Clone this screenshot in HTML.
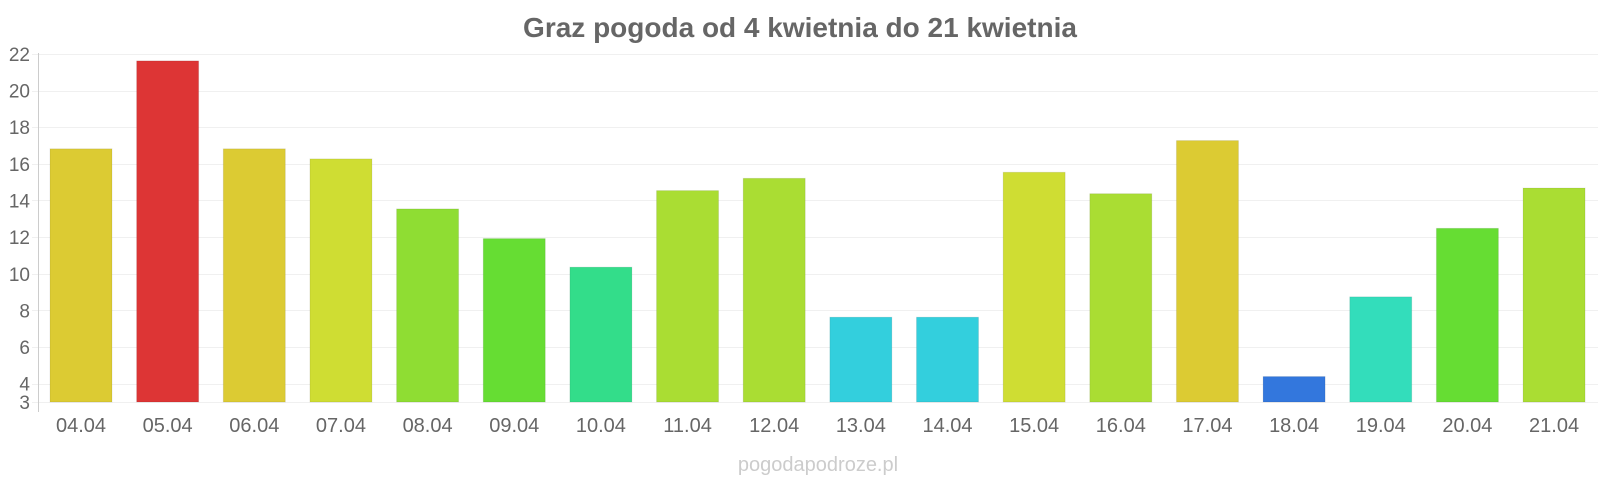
<!DOCTYPE html>
<html><head><meta charset="utf-8"><style>html,body{margin:0;padding:0;background:#fff}svg{display:block}</style></head>
<body>
<svg width="1600" height="480" xmlns="http://www.w3.org/2000/svg" font-family="Liberation Sans, sans-serif">
<text x="800" y="37" text-anchor="middle" font-size="28" font-weight="bold" fill="#666">Graz pogoda od 4 kwietnia do 21 kwietnia</text>
<g id="grid" stroke="#f0f0f0" stroke-width="1">
</g>
<g id="ylab" font-size="19" fill="#666" text-anchor="end"></g>
<line x1="38.5" y1="53" x2="38.5" y2="412" stroke="#ccc" stroke-width="1"/>
<g id="bars"></g>
<g id="xlab" font-size="20" fill="#666" text-anchor="middle"></g>
<text x="818" y="471" text-anchor="middle" font-size="20" fill="#ccc">pogodapodroze.pl</text>
<script>
const ns="http://www.w3.org/2000/svg";
const Y=v=>402-(v-3)*18.32;
const g=document.getElementById('grid'),yl=document.getElementById('ylab');
[3,4,6,8,10,12,14,16,18,20,22].forEach(v=>{
 const l=document.createElementNS(ns,'line');l.setAttribute('x1',32);l.setAttribute('x2',1598);
 l.setAttribute('y1',Math.round(Y(v))+0.5);l.setAttribute('y2',Math.round(Y(v))+0.5);g.appendChild(l);
 const t=document.createElementNS(ns,'text');t.setAttribute('x',30);t.setAttribute('y',Y(v)+7);t.textContent=v;yl.appendChild(t);
});
const d=[[16.82,'#dccb33'],[21.62,'#dd3535'],[16.82,'#dccb33'],[16.27,'#cfdd33'],[13.54,'#8fdd33'],[11.92,'#66dd33'],[10.36,'#33dd8a'],[14.54,'#aadd33'],[15.21,'#aadd33'],[7.63,'#33cfdd'],[7.63,'#33cfdd'],[15.54,'#cfdd33'],[14.37,'#aadd33'],[17.27,'#dccb33'],[4.39,'#3377dd'],[8.74,'#33ddbb'],[12.48,'#66dd33'],[14.68,'#aadd33']];
const labs=['04.04','05.04','06.04','07.04','08.04','09.04','10.04','11.04','12.04','13.04','14.04','15.04','16.04','17.04','18.04','19.04','20.04','21.04'];
const b=document.getElementById('bars'),xl=document.getElementById('xlab');
d.forEach((e,i)=>{
 const x=50+i*86.65,top=Y(e[0]);
 const r=document.createElementNS(ns,'rect');r.setAttribute('x',x);r.setAttribute('y',top);r.setAttribute('width',62);r.setAttribute('height',402-top);
 r.setAttribute('fill',e[1]);r.setAttribute('stroke','rgba(0,0,0,0.08)');r.setAttribute('stroke-width',1);b.appendChild(r);
 const t=document.createElementNS(ns,'text');t.setAttribute('x',x+31);t.setAttribute('y',432);t.textContent=labs[i];xl.appendChild(t);
});
</script>
</svg>
</body></html>
